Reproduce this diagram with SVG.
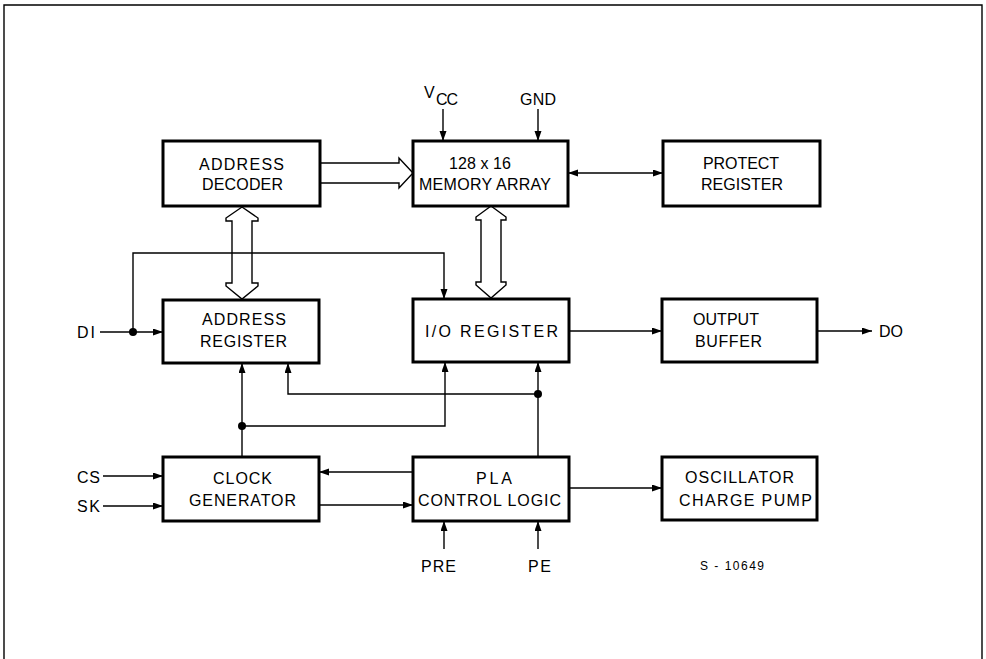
<svg xmlns="http://www.w3.org/2000/svg" width="986" height="659" viewBox="0 0 986 659">
<style>
.box{fill:#fff;stroke:#000;stroke-width:3}
.ln{fill:none;stroke:#000;stroke-width:1.4}
.hol{fill:#fff;stroke:#000;stroke-width:1.4;stroke-linejoin:miter}
.t{font-family:"Liberation Sans",Arial,sans-serif;font-size:16px;fill:#000}
.s{font-size:12px}
.dot{fill:#000}
</style>
<defs>
<marker id="ah" markerUnits="userSpaceOnUse" markerWidth="11" markerHeight="8" refX="10" refY="3.5" orient="auto-start-reverse">
<path d="M0,0 L10,3.5 L0,7 Z" fill="#000"/>
</marker>
</defs>
<rect width="986" height="659" fill="#fff"/>
<path class="ln" d="M4,659 V5 H982 V659" stroke-width="1.8"/>

<g id="connectors">
<path class="hol" d="M320,163 H399 V158 L413,173 L399,188 V183 H320"/>
<path class="hol" d="M242,207 L258,218 V221 H252 V283 H258 V286 L242,299 L226,286 V283 H232 V221 H226 V218 Z"/>
<path class="hol" d="M491,206 L506,217 V220 H501 V282 H506 V285 L491,298 L476,285 V282 H481 V220 H476 V217 Z"/>
<path class="ln" d="M568,173 H663" marker-start="url(#ah)" marker-end="url(#ah)"/>
<path class="ln" d="M443,109 V141" marker-end="url(#ah)"/>
<path class="ln" d="M538,109 V141" marker-end="url(#ah)"/>
<path class="ln" d="M100,332 H163" marker-end="url(#ah)"/>
<path class="ln" d="M133,332 V253 H444 V299" marker-end="url(#ah)"/>
<circle class="dot" cx="133" cy="332" r="4"/>
<path class="ln" d="M242,457 V363" marker-end="url(#ah)"/>
<path class="ln" d="M242,426 H445 V362" marker-end="url(#ah)"/>
<circle class="dot" cx="242" cy="426" r="4"/>
<path class="ln" d="M538,457 V362" marker-end="url(#ah)"/>
<path class="ln" d="M538,394 H288 V363" marker-end="url(#ah)"/>
<circle class="dot" cx="538" cy="394" r="4"/>
<path class="ln" d="M569,331 H662" marker-end="url(#ah)"/>
<path class="ln" d="M817,331 H872" marker-end="url(#ah)"/>
<path class="ln" d="M103,476 H163" marker-end="url(#ah)"/>
<path class="ln" d="M103,506 H163" marker-end="url(#ah)"/>
<path class="ln" d="M413,472 H319" marker-end="url(#ah)"/>
<path class="ln" d="M319,505 H413" marker-end="url(#ah)"/>
<path class="ln" d="M569,488 H662" marker-end="url(#ah)"/>
<path class="ln" d="M444,549 V521" marker-end="url(#ah)"/>
<path class="ln" d="M538,549 V521" marker-end="url(#ah)"/>
</g>

<g id="address-decoder">
<rect class="box" x="163" y="141" width="157" height="65"/>
<text class="t" x="199" y="170" textLength="85" lengthAdjust="spacing">ADDRESS</text>
<text class="t" x="202" y="190" textLength="81" lengthAdjust="spacing">DECODER</text>
</g>
<g id="memory-array">
<rect class="box" x="413" y="141" width="155" height="65"/>
<text class="t" x="449" y="169" textLength="62" lengthAdjust="spacing">128 x 16</text>
<text class="t" x="419" y="190" textLength="132" lengthAdjust="spacing">MEMORY ARRAY</text>
</g>
<g id="protect-register">
<rect class="box" x="663" y="141" width="157" height="65"/>
<text class="t" x="703" y="169" textLength="76" lengthAdjust="spacing">PROTECT</text>
<text class="t" x="701" y="190" textLength="82" lengthAdjust="spacing">REGISTER</text>
</g>
<g id="address-register">
<rect class="box" x="163" y="300" width="156" height="63"/>
<text class="t" x="202" y="325" textLength="84" lengthAdjust="spacing">ADDRESS</text>
<text class="t" x="200" y="347" textLength="87" lengthAdjust="spacing">REGISTER</text>
</g>
<g id="io-register">
<rect class="box" x="413" y="299" width="156" height="63"/>
<text class="t" x="425" y="337" textLength="133" lengthAdjust="spacing">I/O REGISTER</text>
</g>
<g id="output-buffer">
<rect class="box" x="662" y="299" width="155" height="63"/>
<text class="t" x="693" y="325" textLength="66" lengthAdjust="spacing">OUTPUT</text>
<text class="t" x="695" y="347" textLength="67" lengthAdjust="spacing">BUFFER</text>
</g>
<g id="clock-generator">
<rect class="box" x="163" y="457" width="156" height="64"/>
<text class="t" x="213" y="484" textLength="59" lengthAdjust="spacing">CLOCK</text>
<text class="t" x="189" y="506" textLength="107" lengthAdjust="spacing">GENERATOR</text>
</g>
<g id="pla-control-logic">
<rect class="box" x="413" y="457" width="156" height="64"/>
<text class="t" x="476" y="484" textLength="36" lengthAdjust="spacing">PLA</text>
<text class="t" x="418" y="506" textLength="143" lengthAdjust="spacing">CONTROL LOGIC</text>
</g>
<g id="oscillator-charge-pump">
<rect class="box" x="662" y="457" width="155" height="63"/>
<text class="t" x="685" y="483" textLength="109" lengthAdjust="spacing">OSCILLATOR</text>
<text class="t" x="679" y="506" textLength="133" lengthAdjust="spacing">CHARGE PUMP</text>
</g>

<g id="labels">
<text class="t" x="424" y="98" font-size="13">V</text>
<text class="t" x="436" y="105" textLength="22" lengthAdjust="spacing">CC</text>
<text class="t" x="520" y="105" textLength="36" lengthAdjust="spacing">GND</text>
<text class="t" x="77" y="338" textLength="18" lengthAdjust="spacing">DI</text>
<text class="t" x="879" y="337">DO</text>
<text class="t" x="77" y="483" textLength="23" lengthAdjust="spacing">CS</text>
<text class="t" x="77" y="512" textLength="23" lengthAdjust="spacing">SK</text>
<text class="t" x="421" y="572" textLength="35" lengthAdjust="spacing">PRE</text>
<text class="t" x="528" y="572" textLength="23" lengthAdjust="spacing">PE</text>
<text class="t s" x="700" y="570" textLength="64" lengthAdjust="spacing">S - 10649</text>
</g>
</svg>
